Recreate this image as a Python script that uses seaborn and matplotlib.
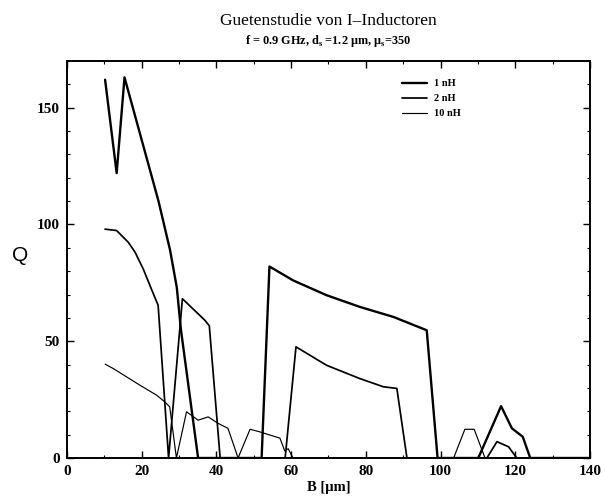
import numpy as np
import pandas as pd
import matplotlib
matplotlib.use("Agg")
import matplotlib.pyplot as plt
import seaborn as sns

# Quality factor Q versus B for three inductance values
b_1nh = [10.2, 13.3, 15.4, 24.5, 27.6, 29.4, 30.5, 35.1, 52.1, 54.2, 60.6, 69.5,
         78.4, 87.4, 96.3, 99.2, 110.1, 116.2, 119.1, 122.0, 124.0, 140.0]
q_1nh = [162, 122, 163, 110, 89, 73, 55, 0, 0, 82, 76, 69.7,
         64.7, 60.4, 54.7, 0, 0, 22.2, 12.7, 9.1, 0, 0]

b_2nh = [10.2, 13.3, 16.4, 18.2, 20.4, 22.2, 24.4, 27.2, 30.9, 36.9, 38.1, 41.0,
         58.4, 61.3, 69.5, 78.4, 84.7, 88.3, 91.0, 112.4, 115.1, 118.2, 120.4, 140.0]
q_2nh = [98, 97.4, 92.4, 88.2, 81, 73.9, 65.4, 0, 68.2, 59, 56.6, 0,
         0, 47.6, 39.7, 34, 30.5, 29.8, 0, 0, 7, 4.8, 0, 0]

b_10nh = [10.2, 12.4, 19.5, 24.0, 26.2, 27.5, 29.3, 32.0, 35.1, 37.8, 40.5, 43.1,
          45.8, 49.0, 51.6, 57.0, 58.3, 59.2, 60.5, 103.5, 106.5, 109.0, 111.9, 140.0]
q_10nh = [40.2, 38.3, 31.2, 26.9, 24, 21.9, 0, 19.8, 16.2, 17.6, 14.8, 12.7,
          0, 12.3, 11.2, 8.5, 3, 4, 0, 0, 12.3, 12.3, 0, 0]

series_labels = ["1 nH", "2 nH", "10 nH"]
x_ticks = [0, 20, 40, 60, 80, 100, 120, 140]
y_ticks = [0, 50, 100, 150]

frames = []
for lab, bx, qy in zip(series_labels, [b_1nh, b_2nh, b_10nh], [q_1nh, q_2nh, q_10nh]):
    frames.append(pd.DataFrame({"B": bx, "Q": qy, "L": lab}))
df = pd.concat(frames, ignore_index=True)

sns.set_theme(style="ticks")
plt.rcParams["font.family"] = ["Liberation Serif", "DejaVu Serif"]
plt.rcParams["mathtext.fontset"] = "custom"
plt.rcParams["mathtext.rm"] = "Liberation Serif"
plt.rcParams["text.color"] = "black"
plt.rcParams["axes.labelcolor"] = "black"
plt.rcParams["xtick.color"] = "black"
plt.rcParams["ytick.color"] = "black"

fig = plt.figure(figsize=(6.05, 4.96), dpi=100)
ax = fig.add_axes([0.1107, 0.0766, 0.8645, 0.8004])

widths = {"1 nH": 1.7, "2 nH": 1.25, "10 nH": 0.85}
sns.lineplot(data=df, x="B", y="Q", hue="L", size="L",
             palette={k: "black" for k in series_labels}, sizes=widths,
             sort=False, estimator=None, ax=ax, legend=False)

ax.set_xlim(0, 140)
ax.set_ylim(0, 170)
ax.set_xticks(x_ticks)
ax.set_yticks(y_ticks)
ax.set_yticks(np.arange(0, 171, 10), minor=True)
ax.set_xticks(np.arange(0, 141, 10), minor=True)
ax.tick_params(which="both", direction="in", top=True, right=True,
               color="black", labelcolor="black")
ax.tick_params(which="major", length=5, width=1.0, labelsize=11, pad=5)
ax.tick_params(which="minor", length=2.5, width=0.8)
for lbl in ax.get_xticklabels() + ax.get_yticklabels():
    lbl.set_fontweight("bold")
for sp in ax.spines.values():
    sp.set_linewidth(1.4)
    sp.set_color("black")

ax.set_xlabel("B [µm]", fontsize=10.5, fontweight="bold", labelpad=2, color="black")
ax.set_ylabel("")
ax.text(-0.09, 0.509, "Q", transform=ax.transAxes, fontsize=15,
        family="Liberation Sans", ha="center", va="center", color="black")

fig.text(0.543, 0.958, "Guetenstudie von I\u2013Inductoren", fontsize=12.5,
         ha="center", va="center", color="black")
fig.text(0.543, 0.917, r"f = 0.9 GHz, d$_\mathregular{s}$ =1.2 µm, µ$_\mathregular{s}$=350",
         fontsize=8.8, fontweight="bold", ha="center", va="center", color="black")

lines = ax.get_lines()[:3]
leg = ax.legend(lines, series_labels, loc="upper left", bbox_to_anchor=(0.64, 0.955),
                frameon=False, prop={"weight": "bold", "size": 7.5},
                handlelength=2.4, handletextpad=0.7, labelspacing=0.55,
                borderpad=0, borderaxespad=0)
for t in leg.get_texts():
    t.set_color("black")

fig.savefig("out.png", dpi=100)
